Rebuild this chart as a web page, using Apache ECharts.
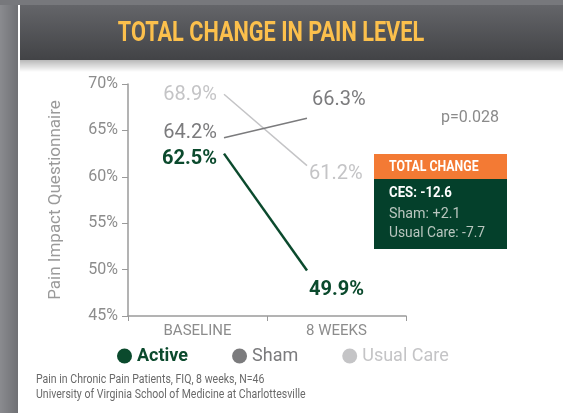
<!DOCTYPE html>
<html><head><meta charset="utf-8">
<script src="https://cdn.jsdelivr.net/npm/echarts@6/dist/echarts.min.js"></script>
<style>html,body{margin:0;padding:0;background:#fff}#c{width:563px;height:413px}</style>
</head><body><div id="c"></div>
<script>
// ---- data ----
const categories = ['BASELINE', '8 WEEKS'];
const seriesNames = ['Active', 'Sham', 'Usual Care'];
const activeValues = [62.5, 49.9];
const shamValues = [64.2, 66.3];
const usualValues = [68.9, 61.2];
const yTicks = [45, 50, 55, 60, 65, 70];
const pValue = 'p=0.028';
const boxTitle = 'TOTAL CHANGE';
const boxLines = ['CES: -12.6', 'Sham: +2.1', 'Usual Care: -7.7'];
const footnotes = ['Pain in Chronic Pain Patients, FIQ, 8 weeks, N=46', 'University of Virginia School of Medicine at Charlottesville'];
const title = 'TOTAL CHANGE IN PAIN LEVEL';

const FONT = "Roboto, 'Liberation Sans', sans-serif";
const GREEN = '#0b4a2d', SHAM = '#7b7b7d', USUAL = '#c4c4c6';

function mk(vals, labelCfgs) {
  return vals.map((v, i) => ({ value: [i, v], label: labelCfgs[i] }));
}
const lblBase = (color, bold) => ({ show: true, formatter: p => p.value[1].toFixed(1) + '%', color, fontSize: 20, fontFamily: FONT, fontWeight: bold ? 'bold' : 'normal' });
const narrowText = (x, y, text, fill, font, sx) => ({ type: 'text', x, y, scaleX: sx, style: { text, fill, font, textVerticalAlign: 'middle' } });

const chart = echarts.init(document.getElementById('c'));
chart.setOption({
  animation: false,
  grid: { left: 128, right: 157, top: 84, bottom: 97 },
  graphic: [
    { type: 'rect', silent: true, z: -10, shape: { x: 0, y: 0, width: 18, height: 413 },
      style: { fill: new echarts.graphic.LinearGradient(0, 0, 1, 0, [{ offset: 0, color: '#8a8b8f' }, { offset: 1, color: '#6f7074' }]) } },
    { type: 'rect', silent: true, z: -10, shape: { x: 0, y: 0, width: 563, height: 5 }, style: { fill: '#77787c' } },
    { type: 'rect', silent: true, z: -9, shape: { x: 20, y: 5, width: 543, height: 55 },
      style: { fill: new echarts.graphic.LinearGradient(0, 0, 0, 1, [{ offset: 0, color: '#646569' }, { offset: 1, color: '#424346' }]) } },
    { type: 'rect', silent: true, z: -9, shape: { x: 20, y: 60, width: 543, height: 12 },
      style: { fill: new echarts.graphic.LinearGradient(0, 0, 0, 1, [{ offset: 0, color: 'rgba(0,0,0,0.28)' }, { offset: 1, color: 'rgba(0,0,0,0)' }]) } },
    { type: 'text', z: 5, x: 271, y: 34, scaleX: 0.775, style: { text: title, textAlign: 'center', textVerticalAlign: 'middle', fill: '#fcc04c', font: "bold 28px " + FONT, shadowBlur: 6, shadowColor: 'rgba(0,0,0,0.7)', shadowOffsetX: 1, shadowOffsetY: 1 } },
    narrowText(441, 118, pValue, '#8a8a8a', "16px " + FONT, 1),
    { type: 'rect', shape: { x: 374, y: 154, width: 133, height: 25 }, style: { fill: '#f37a34' } },
    { type: 'rect', shape: { x: 374, y: 179, width: 133, height: 70 }, style: { fill: '#04402b' } },
    narrowText(389, 167, boxTitle, '#ffffff', "bold 15px " + FONT, 0.82),
    narrowText(389, 193, boxLines[0], '#ffffff', "bold 15px " + FONT, 0.88),
    narrowText(389, 214, boxLines[1], '#b9c6bf', "15px " + FONT, 0.95),
    narrowText(389, 233, boxLines[2], '#b9c6bf', "15px " + FONT, 0.92),
    narrowText(36, 380, footnotes[0], '#6a6a6a', "13px " + FONT, 0.81),
    narrowText(36, 395, footnotes[1], '#6a6a6a', "13px " + FONT, 0.81)
  ],
  legend: {
    left: 117, top: 347, padding: 0, icon: 'circle', itemWidth: 15, itemHeight: 15, itemGap: 44,
    textStyle: { fontSize: 18, fontFamily: FONT },
    data: [
      { name: seriesNames[0], textStyle: { color: GREEN, fontWeight: 'bold' } },
      { name: seriesNames[1], textStyle: { color: SHAM } },
      { name: seriesNames[2], textStyle: { color: USUAL } }
    ]
  },
  xAxis: [
    { type: 'category', data: categories, boundaryGap: true,
      axisLine: { lineStyle: { color: '#9a9a9a', width: 1.5 } },
      axisTick: { show: true, length: 5, lineStyle: { color: '#9a9a9a' } },
      axisLabel: { color: '#8c8c8c', fontSize: 15, fontFamily: FONT, margin: 8 } },
    { type: 'value', min: -96 / 83, max: 182 / 83, show: false }
  ],
  yAxis: {
    type: 'value', min: yTicks[0], max: yTicks[yTicks.length - 1], interval: 5,
    name: 'Pain Impact Questionnaire', nameLocation: 'middle', nameGap: 64,
    nameTextStyle: { color: '#9a9a9a', fontSize: 17, fontFamily: FONT },
    axisLine: { show: true, onZero: false, lineStyle: { color: '#9a9a9a', width: 1.5 } },
    axisTick: { show: true, length: 6, lineStyle: { color: '#9a9a9a' } },
    axisLabel: { formatter: '{value}%', color: '#8c8c8c', fontSize: 16, fontFamily: FONT, margin: 10 },
    splitLine: { show: false }
  },
  series: [
    { name: seriesNames[2], type: 'line', xAxisIndex: 1, symbol: 'circle', symbolSize: 0, z: 2,
      itemStyle: { color: USUAL }, lineStyle: { color: USUAL, width: 1.5 },
      data: mk(usualValues, [
        Object.assign(lblBase(USUAL), { position: 'left', distance: 7, offset: [0, 1] }),
        Object.assign(lblBase(USUAL), { position: 'right', distance: 0, offset: [2, 8] })
      ]) },
    { name: seriesNames[1], type: 'line', xAxisIndex: 1, symbol: 'circle', symbolSize: 0, z: 3,
      itemStyle: { color: SHAM }, lineStyle: { color: SHAM, width: 1.5 },
      data: mk(shamValues, [
        Object.assign(lblBase(SHAM), { position: 'left', distance: 7, offset: [0, -5] }),
        Object.assign(lblBase(SHAM), { position: 'right', distance: 0, offset: [5, -18] })
      ]) },
    { name: seriesNames[0], type: 'line', xAxisIndex: 1, symbol: 'circle', symbolSize: 0, z: 4,
      itemStyle: { color: GREEN }, lineStyle: { color: GREEN, width: 2.5 },
      data: mk(activeValues, [
        Object.assign(lblBase(GREEN, true), { position: 'left', distance: 7, offset: [0, 5] }),
        Object.assign(lblBase(GREEN, true), { position: 'right', distance: 0, offset: [2, 19] })
      ]) }
  ]
});
</script></body></html>
